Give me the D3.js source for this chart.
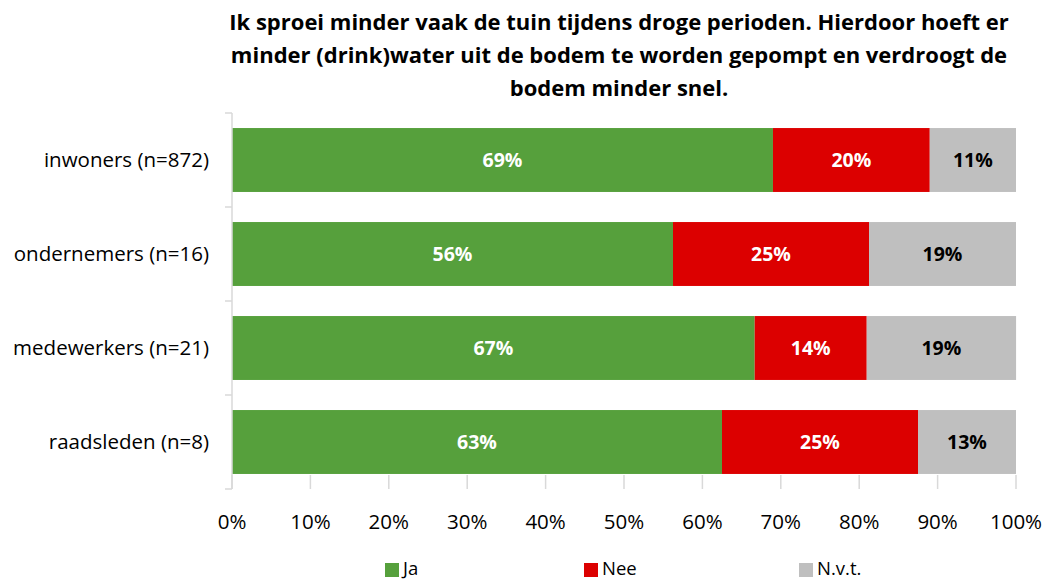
<!DOCTYPE html>
<html><head><meta charset="utf-8">
<script src="https://cdn.jsdelivr.net/npm/d3@7"></script>
<style>body{margin:0;background:#fff;} svg{display:block;font-family:"Open Sans",Lato,sans-serif;}</style>
</head><body>
<svg id="c" width="1046" height="580"></svg>
<script>
const titleLines = ["Ik sproei minder vaak de tuin tijdens droge perioden. Hierdoor hoeft er","minder (drink)water uit de bodem te worden gepompt en verdroogt de","bodem minder snel."];
const categories = ["inwoners (n=872)","ondernemers (n=16)","medewerkers (n=21)","raadsleden (n=8)"];
const seriesNames = ["Ja","Nee","N.v.t."];
const ja = [69.0, 56.25, 66.67, 62.5];
const nee = [20.0, 25.0, 14.29, 25.0];
const nvt = [11.0, 18.75, 19.05, 12.5];
const tickValues = [0,10,20,30,40,50,60,70,80,90,100];
const colors = ["#56a03c","#dc0000","#bfbfbf"];
const labelColors = ["#ffffff","#ffffff","#000000"];

const svg = d3.select("#c");
const x = d3.scaleLinear().domain([0,100]).range([232,1016]);
const y = d3.scaleBand().domain(categories).range([113,489]).paddingInner(0.32).paddingOuter(0.16);
const yOuter = d3.scaleBand().domain(categories).range([113,489]);

// title
svg.append("g").selectAll("text").data(titleLines).join("text")
  .attr("x",619).attr("y",(d,i)=>30+i*33).attr("text-anchor","middle")
  .attr("font-weight","bold").attr("font-size",22).attr("fill","#000").text(d=>d);

const rows = categories.map((c,i)=>{ const vals=[ja[i],nee[i],nvt[i]]; let acc=0; return vals.map((v,k)=>{const s={cat:c,k,v,x0:acc,x1:acc+v}; acc+=v; return s;}); }).flat();

// x tick marks
svg.append("g").selectAll("line").data(tickValues).join("line")
  .attr("x1",d=>x(d)).attr("x2",d=>x(d)).attr("y1",475).attr("y2",489)
  .attr("stroke","#d9d9d9").attr("stroke-width",1.5);

// bars
svg.append("g").selectAll("rect").data(rows).join("rect")
  .attr("x",d=>x(d.x0)).attr("width",d=>x(d.x1)-x(d.x0))
  .attr("y",d=>y(d.cat)).attr("height",y.bandwidth())
  .attr("fill",d=>colors[d.k]);

// y axis
svg.append("line").attr("x1",232).attr("x2",232).attr("y1",113).attr("y2",489).attr("stroke","#d9d9d9").attr("stroke-width",1.5);
const bounds = categories.map(c=>yOuter(c)).concat([489]);
svg.append("g").selectAll("line").data(bounds).join("line")
  .attr("x1",225).attr("x2",232).attr("y1",d=>d).attr("y2",d=>d).attr("stroke","#d9d9d9").attr("stroke-width",1.5);

// category labels
svg.append("g").selectAll("text").data(categories).join("text")
  .attr("x",209).attr("y",d=>y(d)+y.bandwidth()/2).attr("dy","0.35em").attr("text-anchor","end")
  .attr("font-size",20.5).attr("fill","#000").text(d=>d);

// value labels
svg.append("g").selectAll("text").data(rows).join("text")
  .attr("x",d=>x((d.x0+d.x1)/2)).attr("y",d=>y(d.cat)+y.bandwidth()/2).attr("dy","0.35em")
  .attr("text-anchor","middle").attr("font-weight","bold").attr("font-size",19.5)
  .attr("fill",d=>labelColors[d.k]).text(d=>Math.round(d.v)+"%");

// tick labels
svg.append("g").selectAll("text").data(tickValues).join("text")
  .attr("x",d=>x(d)).attr("y",529).attr("text-anchor","middle")
  .attr("font-size",20.5).attr("fill","#000").text(d=>d+"%");

// legend
const legX = [385,584,799];
const lg = svg.append("g").selectAll("g").data(seriesNames).join("g")
  .attr("transform",(d,i)=>`translate(${legX[i]},0)`);
lg.append("rect").attr("x",0).attr("y",563).attr("width",14).attr("height",14).attr("fill",(d,i)=>colors[i]);
lg.append("text").attr("x",18).attr("y",574.5).attr("font-size",18.5).attr("fill","#000").text(d=>d);
</script>
</body></html>
